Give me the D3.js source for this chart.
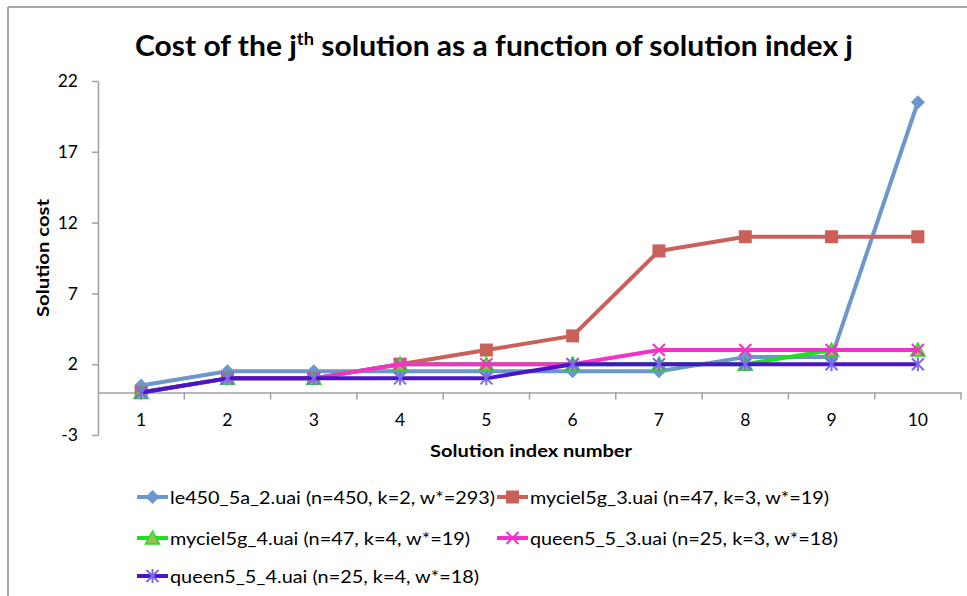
<!DOCTYPE html>
<html>
<head>
<meta charset="utf-8">
<script src="https://cdn.jsdelivr.net/npm/d3@7/dist/d3.min.js"></script>
<style>
  html, body { margin: 0; padding: 0; background: #fff; }
  svg { display: block; font-family: Lato, "Open Sans", sans-serif; }
</style>
</head>
<body>
<svg id="chart" width="967" height="596"></svg>
<script>
const categories = [1, 2, 3, 4, 5, 6, 7, 8, 9, 10];
const yTicks = [-3, 2, 7, 12, 17, 22];

const seriesNames = [
  "le450_5a_2.uai (n=450, k=2, w*=293)",
  "myciel5g_3.uai (n=47, k=3, w*=19)",
  "myciel5g_4.uai (n=47, k=4, w*=19)",
  "queen5_5_3.uai (n=25, k=3, w*=18)",
  "queen5_5_4.uai (n=25, k=4, w*=18)"
];
const le450_5a_2 = [0.5, 1.5, 1.5, 1.5, 1.5, 1.5, 1.5, 2.5, 2.5, 20.5];
const myciel5g_3 = [0, 1, 1, 2, 3, 4, 10, 11, 11, 11];
const myciel5g_4 = [0, 1, 1, 2, 2, 2, 2, 2, 3, 3];
const queen5_5_3 = [0, 1, 1, 2, 2, 2, 3, 3, 3, 3];
const queen5_5_4 = [0, 1, 1, 1, 1, 2, 2, 2, 2, 2];

const seriesValues = [le450_5a_2, myciel5g_3, myciel5g_4, queen5_5_3, queen5_5_4];
const lineColors = ["#6C97CA", "#C9605A", "#1EE01E", "#F531C9", "#4A15C8"];
const markerShapes = ["diamond", "square", "triangle", "x", "asterisk"];

const svg = d3.select("#chart");

// outer frame
svg.append("line").attr("x1", 8).attr("y1", 7).attr("x2", 967).attr("y2", 7)
  .attr("stroke", "#A6A6A6").attr("stroke-width", 2);
svg.append("line").attr("x1", 8).attr("y1", 7).attr("x2", 8).attr("y2", 596)
  .attr("stroke", "#A6A6A6").attr("stroke-width", 2);

const plot = { left: 98, right: 961, top: 81, bottom: 435 };
const x = d3.scaleBand().domain(categories).range([plot.left, plot.right]);
const y = d3.scaleLinear().domain([-3, 22]).range([plot.bottom, plot.top]);

const axisColor = "#A0A0A0";

// y axis
const yAxis = svg.append("g").attr("transform", `translate(${plot.left},0)`)
  .call(d3.axisLeft(y).tickValues(yTicks).tickFormat(d => String(d))
    .tickSize(6).tickPadding(14).tickSizeOuter(0));
yAxis.select(".domain").attr("stroke", axisColor).attr("stroke-width", 1.5);
yAxis.selectAll(".tick line").attr("stroke", axisColor).attr("stroke-width", 1.5);
yAxis.selectAll(".tick text").attr("font-size", 17.5).attr("fill", "#000")
  .attr("font-family", "Lato, sans-serif");

// x axis at y=0
const x0 = y(0);
const xAxis = svg.append("g").attr("transform", `translate(0,${x0})`)
  .call(d3.axisBottom(x).tickSize(0).tickPadding(21));
xAxis.select(".domain").attr("stroke", axisColor).attr("stroke-width", 1.5);
xAxis.selectAll(".tick text").attr("font-size", 17.5).attr("fill", "#000")
  .attr("font-family", "Lato, sans-serif");
// boundary ticks
const bounds = categories.map(c => x(c)).concat([x(categories[categories.length - 1]) + x.bandwidth()]);
xAxis.selectAll(".btick").data(bounds.slice(1)).enter().append("line")
  .attr("x1", d => d).attr("x2", d => d).attr("y1", 0).attr("y2", 7)
  .attr("stroke", axisColor).attr("stroke-width", 1.5);

// title
const title = svg.append("text").attr("x", 494).attr("y", 56)
  .attr("text-anchor", "middle").attr("font-weight", "bold").attr("font-size", 28)
  .attr("textLength", 718).attr("lengthAdjust", "spacingAndGlyphs");
title.append("tspan").text("Cost of the j");
title.append("tspan").attr("font-size", 17).attr("dy", -11).text("th");
title.append("tspan").attr("dy", 11).text(" solution as a function of solution index j");

// axis titles
svg.append("text").attr("transform", "translate(49,258) rotate(-90)")
  .attr("text-anchor", "middle").attr("font-weight", "bold").attr("font-size", 17.5)
  .attr("textLength", 118).attr("lengthAdjust", "spacingAndGlyphs")
  .text("Solution cost");
svg.append("text").attr("x", 531).attr("y", 457)
  .attr("text-anchor", "middle").attr("font-weight", "bold").attr("font-size", 17.5)
  .attr("textLength", 202).attr("lengthAdjust", "spacingAndGlyphs")
  .text("Solution index number");

function drawMarker(g, shape, cx, cy, color) {
  if (shape === "diamond") {
    g.append("path").attr("d", `M${cx},${cy - 7}L${cx + 7},${cy}L${cx},${cy + 7}L${cx - 7},${cy}Z`)
      .attr("fill", color);
  } else if (shape === "square") {
    g.append("rect").attr("x", cx - 6.5).attr("y", cy - 6.5).attr("width", 13).attr("height", 13)
      .attr("fill", color);
  } else if (shape === "triangle") {
    g.append("path").attr("d", `M${cx},${cy - 7}L${cx + 7},${cy + 6}L${cx - 7},${cy + 6}Z`)
      .attr("fill", "#9BBB59").attr("stroke", color).attr("stroke-width", 1.5);
  } else if (shape === "x") {
    g.append("path").attr("d", `M${cx - 6},${cy - 6}L${cx + 6},${cy + 6}M${cx - 6},${cy + 6}L${cx + 6},${cy - 6}`)
      .attr("stroke", color).attr("stroke-width", 2).attr("fill", "none");
  } else if (shape === "asterisk") {
    g.append("path").attr("d", `M${cx - 6},${cy - 6}L${cx + 6},${cy + 6}M${cx - 6},${cy + 6}L${cx + 6},${cy - 6}M${cx},${cy - 7}L${cx},${cy + 7}`)
      .attr("stroke", "#7A6CE6").attr("stroke-width", 2).attr("fill", "none");
  }
}

const line = d3.line().x((d, i) => x(categories[i]) + x.bandwidth() / 2).y(d => y(d));

seriesValues.forEach((vals, si) => {
  const g = svg.append("g");
  g.append("path").datum(vals).attr("d", line)
    .attr("fill", "none").attr("stroke", lineColors[si]).attr("stroke-width", 4)
    .attr("stroke-linejoin", "round");
  vals.forEach((v, i) => {
    drawMarker(g, markerShapes[si], x(categories[i]) + x.bandwidth() / 2, y(v), lineColors[si]);
  });
});

// legend
const legendPos = [
  { x: 137, y: 497, w: 325 },
  { x: 497, y: 497, w: 299 },
  { x: 137, y: 538, w: 300 },
  { x: 497, y: 538, w: 308 },
  { x: 137, y: 576, w: 309 }
];
seriesNames.forEach((name, si) => {
  const p = legendPos[si];
  const g = svg.append("g");
  g.append("line").attr("x1", p.x).attr("x2", p.x + 31).attr("y1", p.y).attr("y2", p.y)
    .attr("stroke", lineColors[si]).attr("stroke-width", 4);
  drawMarker(g, markerShapes[si], p.x + 15.5, p.y, lineColors[si]);
  g.append("text").attr("x", p.x + 33).attr("y", p.y + 6.5)
    .attr("font-size", 18).attr("fill", "#000")
    .attr("textLength", p.w).attr("lengthAdjust", "spacingAndGlyphs")
    .text(name);
});
</script>
</body>
</html>
